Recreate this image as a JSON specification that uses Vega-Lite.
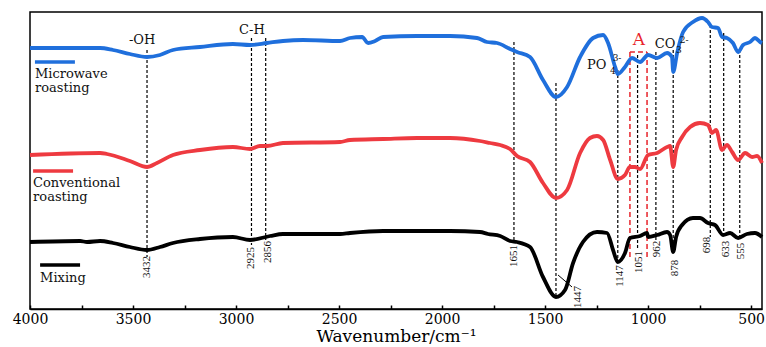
{
  "$schema": "https://vega.github.io/schema/vega-lite/v6.json",
  "width": 732,
  "height": 297,
  "autosize": {"type": "none"},
  "padding": {"left": 30, "top": 12, "right": 4, "bottom": 38},
  "background": "white",
  "config": {"view": {"stroke": "#000", "strokeWidth": 1.5}},
  "datasets": {
    "spectra": [
      {"s":"Microwave","wn":4000,"v":261},{"s":"Microwave","wn":3660,"v":261},{"s":"Microwave","wn":3597,"v":259},{"s":"Microwave","wn":3515,"v":255},{"s":"Microwave","wn":3432,"v":252},{"s":"Microwave","wn":3369,"v":254},{"s":"Microwave","wn":3306,"v":259},{"s":"Microwave","wn":3175,"v":262},{"s":"Microwave","wn":3015,"v":265},{"s":"Microwave","wn":2932,"v":264},{"s":"Microwave","wn":2850,"v":266},{"s":"Microwave","wn":2772,"v":268},{"s":"Microwave","wn":2675,"v":269},{"s":"Microwave","wn":2495,"v":268},{"s":"Microwave","wn":2447,"v":271},{"s":"Microwave","wn":2388,"v":272},{"s":"Microwave","wn":2359,"v":266},{"s":"Microwave","wn":2325,"v":268},{"s":"Microwave","wn":2286,"v":272},{"s":"Microwave","wn":2121,"v":273},{"s":"Microwave","wn":1961,"v":273},{"s":"Microwave","wn":1830,"v":271},{"s":"Microwave","wn":1782,"v":267},{"s":"Microwave","wn":1733,"v":266},{"s":"Microwave","wn":1670,"v":260},{"s":"Microwave","wn":1636,"v":257},{"s":"Microwave","wn":1573,"v":252},{"s":"Microwave","wn":1510,"v":229},{"s":"Microwave","wn":1447,"v":212},{"s":"Microwave","wn":1393,"v":222},{"s":"Microwave","wn":1330,"v":252},{"s":"Microwave","wn":1267,"v":271},{"s":"Microwave","wn":1218,"v":274},{"s":"Microwave","wn":1194,"v":266},{"s":"Microwave","wn":1160,"v":242},{"s":"Microwave","wn":1147,"v":235},{"s":"Microwave","wn":1112,"v":242},{"s":"Microwave","wn":1078,"v":251},{"s":"Microwave","wn":1039,"v":247},{"s":"Microwave","wn":1000,"v":254},{"s":"Microwave","wn":956,"v":251},{"s":"Microwave","wn":908,"v":256},{"s":"Microwave","wn":884,"v":252},{"s":"Microwave","wn":878,"v":237},{"s":"Microwave","wn":859,"v":256},{"s":"Microwave","wn":830,"v":277},{"s":"Microwave","wn":782,"v":287},{"s":"Microwave","wn":738,"v":291},{"s":"Microwave","wn":709,"v":287},{"s":"Microwave","wn":690,"v":282},{"s":"Microwave","wn":660,"v":281},{"s":"Microwave","wn":641,"v":272},{"s":"Microwave","wn":617,"v":271},{"s":"Microwave","wn":588,"v":266},{"s":"Microwave","wn":563,"v":257},{"s":"Microwave","wn":539,"v":264},{"s":"Microwave","wn":505,"v":267},{"s":"Microwave","wn":481,"v":271},{"s":"Microwave","wn":456,"v":267},{"s":"Microwave","wn":447,"v":266},
      {"s":"Conventional","wn":4000,"v":154},{"s":"Conventional","wn":3660,"v":156},{"s":"Conventional","wn":3626,"v":155},{"s":"Conventional","wn":3515,"v":148},{"s":"Conventional","wn":3432,"v":142},{"s":"Conventional","wn":3384,"v":146},{"s":"Conventional","wn":3306,"v":154},{"s":"Conventional","wn":3175,"v":159},{"s":"Conventional","wn":3015,"v":162},{"s":"Conventional","wn":2932,"v":160},{"s":"Conventional","wn":2884,"v":163},{"s":"Conventional","wn":2850,"v":163},{"s":"Conventional","wn":2772,"v":166},{"s":"Conventional","wn":2495,"v":167},{"s":"Conventional","wn":2447,"v":169},{"s":"Conventional","wn":2286,"v":170},{"s":"Conventional","wn":2121,"v":171},{"s":"Conventional","wn":1961,"v":171},{"s":"Conventional","wn":1816,"v":168},{"s":"Conventional","wn":1767,"v":166},{"s":"Conventional","wn":1718,"v":164},{"s":"Conventional","wn":1670,"v":160},{"s":"Conventional","wn":1636,"v":153},{"s":"Conventional","wn":1573,"v":147},{"s":"Conventional","wn":1510,"v":126},{"s":"Conventional","wn":1447,"v":111},{"s":"Conventional","wn":1393,"v":119},{"s":"Conventional","wn":1330,"v":156},{"s":"Conventional","wn":1282,"v":171},{"s":"Conventional","wn":1248,"v":173},{"s":"Conventional","wn":1218,"v":169},{"s":"Conventional","wn":1184,"v":149},{"s":"Conventional","wn":1147,"v":130},{"s":"Conventional","wn":1112,"v":134},{"s":"Conventional","wn":1088,"v":142},{"s":"Conventional","wn":1063,"v":142},{"s":"Conventional","wn":1039,"v":140},{"s":"Conventional","wn":1000,"v":154},{"s":"Conventional","wn":956,"v":156},{"s":"Conventional","wn":908,"v":162},{"s":"Conventional","wn":893,"v":163},{"s":"Conventional","wn":878,"v":142},{"s":"Conventional","wn":864,"v":159},{"s":"Conventional","wn":835,"v":172},{"s":"Conventional","wn":796,"v":182},{"s":"Conventional","wn":748,"v":186},{"s":"Conventional","wn":709,"v":184},{"s":"Conventional","wn":690,"v":176},{"s":"Conventional","wn":670,"v":179},{"s":"Conventional","wn":641,"v":159},{"s":"Conventional","wn":617,"v":164},{"s":"Conventional","wn":592,"v":157},{"s":"Conventional","wn":563,"v":149},{"s":"Conventional","wn":529,"v":156},{"s":"Conventional","wn":495,"v":152},{"s":"Conventional","wn":471,"v":153},{"s":"Conventional","wn":447,"v":146},
      {"s":"Mixing","wn":4000,"v":67},{"s":"Mixing","wn":3757,"v":68},{"s":"Mixing","wn":3723,"v":67},{"s":"Mixing","wn":3660,"v":68},{"s":"Mixing","wn":3597,"v":66},{"s":"Mixing","wn":3515,"v":62},{"s":"Mixing","wn":3432,"v":59},{"s":"Mixing","wn":3369,"v":62},{"s":"Mixing","wn":3306,"v":66},{"s":"Mixing","wn":3175,"v":70},{"s":"Mixing","wn":3015,"v":72},{"s":"Mixing","wn":2932,"v":69},{"s":"Mixing","wn":2835,"v":73},{"s":"Mixing","wn":2772,"v":75},{"s":"Mixing","wn":2495,"v":75},{"s":"Mixing","wn":2447,"v":76},{"s":"Mixing","wn":2286,"v":78},{"s":"Mixing","wn":1961,"v":78},{"s":"Mixing","wn":1816,"v":77},{"s":"Mixing","wn":1777,"v":75},{"s":"Mixing","wn":1718,"v":73},{"s":"Mixing","wn":1670,"v":68},{"s":"Mixing","wn":1636,"v":67},{"s":"Mixing","wn":1573,"v":62},{"s":"Mixing","wn":1510,"v":32},{"s":"Mixing","wn":1447,"v":12},{"s":"Mixing","wn":1403,"v":19},{"s":"Mixing","wn":1364,"v":46},{"s":"Mixing","wn":1316,"v":67},{"s":"Mixing","wn":1248,"v":77},{"s":"Mixing","wn":1199,"v":76},{"s":"Mixing","wn":1170,"v":59},{"s":"Mixing","wn":1147,"v":47},{"s":"Mixing","wn":1112,"v":56},{"s":"Mixing","wn":1088,"v":71},{"s":"Mixing","wn":1039,"v":73},{"s":"Mixing","wn":1005,"v":76},{"s":"Mixing","wn":1000,"v":72},{"s":"Mixing","wn":956,"v":74},{"s":"Mixing","wn":908,"v":77},{"s":"Mixing","wn":893,"v":74},{"s":"Mixing","wn":878,"v":57},{"s":"Mixing","wn":864,"v":72},{"s":"Mixing","wn":835,"v":84},{"s":"Mixing","wn":782,"v":91},{"s":"Mixing","wn":748,"v":91},{"s":"Mixing","wn":709,"v":86},{"s":"Mixing","wn":675,"v":84},{"s":"Mixing","wn":636,"v":74},{"s":"Mixing","wn":602,"v":76},{"s":"Mixing","wn":563,"v":71},{"s":"Mixing","wn":520,"v":75},{"s":"Mixing","wn":481,"v":76},{"s":"Mixing","wn":447,"v":72}
    ],
    "peaks": [
      {"wn":3432,"top":259,"bot":52,"lab":3432,"ly":42,"lx":3432},
      {"wn":2925,"top":271,"bot":64,"lab":2925,"ly":51,"lx":2925},
      {"wn":2856,"top":271,"bot":69,"lab":2856,"ly":57,"lx":2846},
      {"wn":1651,"top":267,"bot":67,"lab":1651,"ly":53,"lx":1651},
      {"wn":1447,"top":226,"bot":12,"lab":1447,"ly":12,"lx":1340},
      {"wn":1147,"top":239,"bot":46,"lab":1147,"ly":33,"lx":1135},
      {"wn":1051,"top":254,"bot":59,"lab":1051,"ly":47,"lx":1044},
      {"wn":962,"top":257,"bot":69,"lab":962,"ly":60,"lx":957},
      {"wn":878,"top":259,"bot":57,"lab":878,"ly":41,"lx":869},
      {"wn":698,"top":284,"bot":72,"lab":698,"ly":64,"lx":714},
      {"wn":633,"top":276,"bot":71,"lab":633,"ly":60,"lx":624},
      {"wn":555,"top":259,"bot":72,"lab":555,"ly":58,"lx":548}
    ],
    "redbox": [
      {"wn":1088,"top":257,"bot":52},
      {"wn":1005,"top":257,"bot":52}
    ],
    "legend": [
      {"s":"Microwave","a":3976,"b":3782,"v":247,"t1":"Microwave","t2":"roasting","tv1":235,"tv2":221},
      {"s":"Conventional","a":3985,"b":3791,"v":138,"t1":"Conventional","t2":"roasting","tv1":126,"tv2":112},
      {"s":"Mixing","a":3951,"b":3757,"v":44,"t1":"Mixing","t2":"","tv1":31,"tv2":31}
    ],
    "groups": [
      {"t":"-OH","wn":3520,"v":269,"sz":"big"},
      {"t":"C-H","wn":2985,"v":279,"sz":"big"},
      {"t":"PO","wn":1296,"v":244,"sz":"big"},
      {"t":"4","wn":1185,"v":238,"sz":"small"},
      {"t":"3-","wn":1172,"v":251,"sz":"small"},
      {"t":"CO","wn":967,"v":265,"sz":"big"},
      {"t":"3","wn":864,"v":259,"sz":"small"},
      {"t":"2-","wn":846,"v":269,"sz":"small"}
    ]
  },
  "layer": [
    {
      "data": {"name": "peaks"},
      "mark": {"type": "rule", "color": "#000", "strokeWidth": 1.2, "strokeDash": [3, 2]},
      "encoding": {
        "x": {"field": "wn", "type": "quantitative", "scale": {"domain": [4000, 447], "nice": false, "zero": false},
          "axis": {"title": "Wavenumber/cm⁻¹", "values": [4000,3750,3500,3250,3000,2750,2500,2250,2000,1750,1500,1250,1000,750,500],
            "labelExpr": "datum.value % 500 == 0 ? format(datum.value, 'd') : ''",
            "grid": false, "domainColor": "#000", "domainWidth": 1.5, "tickColor": "#000", "tickWidth": 1.5, "tickSize": -4,
            "labelFont": "DejaVu Serif", "labelFontSize": 14, "labelColor": "#000", "labelPadding": 7, "labelFlush": false,
            "titleFont": "DejaVu Serif", "titleFontSize": 17, "titleFontWeight": "normal", "titleColor": "#000", "titlePadding": 2}},
        "y": {"field": "top", "type": "quantitative", "scale": {"domain": [0, 297], "nice": false, "zero": false}, "axis": null},
        "y2": {"field": "bot"}
      }
    },
    {
      "data": {"name": "redbox"},
      "mark": {"type": "rule", "color": "#e8242b", "strokeWidth": 1.5, "strokeDash": [5, 3]},
      "encoding": {
        "x": {"field": "wn", "type": "quantitative"},
        "y": {"field": "top", "type": "quantitative"},
        "y2": {"field": "bot"}
      }
    },
    {
      "data": {"values": [{"a": 1088, "b": 1005, "v": 257}]},
      "mark": {"type": "rule", "color": "#e8242b", "strokeWidth": 1.5, "strokeDash": [5, 3]},
      "encoding": {
        "x": {"field": "a", "type": "quantitative"},
        "x2": {"field": "b"},
        "y": {"field": "v", "type": "quantitative"}
      }
    },
    {
      "data": {"values": [{"a": 1437, "b": 1369, "v1": 34, "v2": 22}]},
      "mark": {"type": "rule", "color": "#000", "strokeWidth": 1},
      "encoding": {
        "x": {"field": "a", "type": "quantitative"},
        "x2": {"field": "b"},
        "y": {"field": "v1", "type": "quantitative"},
        "y2": {"field": "v2"}
      }
    },
    {
      "data": {"name": "spectra"},
      "mark": {"type": "line", "strokeWidth": 3.8, "interpolate": "monotone"},
      "encoding": {
        "x": {"field": "wn", "type": "quantitative"},
        "y": {"field": "v", "type": "quantitative"},
        "color": {"field": "s", "type": "nominal", "legend": null,
          "scale": {"domain": ["Microwave", "Conventional", "Mixing"], "range": ["#1f6fdc", "#ee3a40", "#000000"]}}
      }
    },
    {
      "data": {"name": "legend"},
      "mark": {"type": "rule", "strokeWidth": 3.5},
      "encoding": {
        "x": {"field": "a", "type": "quantitative"},
        "x2": {"field": "b"},
        "y": {"field": "v", "type": "quantitative"},
        "color": {"field": "s", "type": "nominal", "legend": null}
      }
    },
    {
      "data": {"name": "legend"},
      "mark": {"type": "text", "align": "left", "baseline": "middle", "font": "DejaVu Serif", "fontSize": 13, "color": "#111"},
      "encoding": {
        "x": {"field": "a", "type": "quantitative"},
        "y": {"field": "tv1", "type": "quantitative"},
        "text": {"field": "t1"}
      }
    },
    {
      "data": {"name": "legend"},
      "mark": {"type": "text", "align": "left", "baseline": "middle", "font": "DejaVu Serif", "fontSize": 13, "color": "#111"},
      "encoding": {
        "x": {"field": "a", "type": "quantitative"},
        "y": {"field": "tv2", "type": "quantitative"},
        "text": {"field": "t2"}
      }
    },
    {
      "data": {"name": "peaks"},
      "mark": {"type": "text", "angle": 270, "align": "center", "baseline": "middle", "font": "Liberation Serif", "fontSize": 11, "color": "#111"},
      "encoding": {
        "x": {"field": "lx", "type": "quantitative"},
        "y": {"field": "ly", "type": "quantitative"},
        "text": {"field": "lab", "type": "quantitative", "format": "d"}
      }
    },
    {
      "data": {"name": "groups"},
      "transform": [{"filter": "datum.sz == 'big'"}],
      "mark": {"type": "text", "align": "left", "baseline": "middle", "font": "DejaVu Serif", "fontSize": 13, "color": "#111"},
      "encoding": {
        "x": {"field": "wn", "type": "quantitative"},
        "y": {"field": "v", "type": "quantitative"},
        "text": {"field": "t"}
      }
    },
    {
      "data": {"name": "groups"},
      "transform": [{"filter": "datum.sz == 'small'"}],
      "mark": {"type": "text", "align": "left", "baseline": "middle", "font": "DejaVu Serif", "fontSize": 9, "color": "#111"},
      "encoding": {
        "x": {"field": "wn", "type": "quantitative"},
        "y": {"field": "v", "type": "quantitative"},
        "text": {"field": "t"}
      }
    },
    {
      "data": {"values": [{"t": "A", "wn": 1044, "v": 269}]},
      "mark": {"type": "text", "align": "center", "baseline": "middle", "font": "DejaVu Serif", "fontSize": 17, "color": "#e8242b"},
      "encoding": {
        "x": {"field": "wn", "type": "quantitative"},
        "y": {"field": "v", "type": "quantitative"},
        "text": {"field": "t"}
      }
    }
  ]
}
